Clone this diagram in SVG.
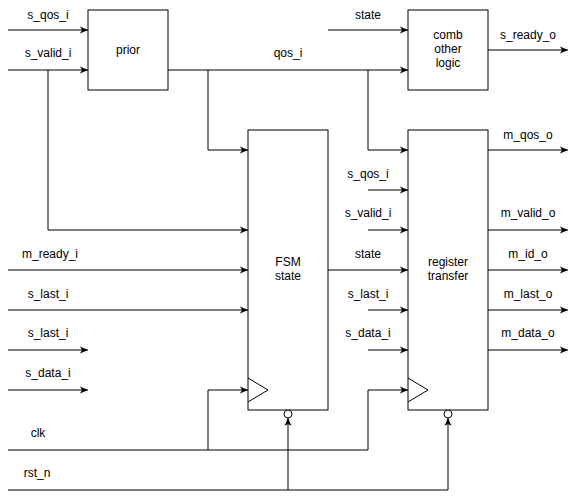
<svg xmlns="http://www.w3.org/2000/svg" width="577" height="499" viewBox="0 0 577 499">
<style>
.box{fill:#fff;stroke:#000;stroke-width:1}
.w{fill:none;stroke:#000;stroke-width:1}
.t{font-family:"Liberation Sans",Arial,sans-serif;font-size:12px;fill:#000;text-anchor:middle}
</style>
<defs>
<marker id="a" markerUnits="userSpaceOnUse" markerWidth="10" markerHeight="10" refX="8" refY="4" orient="auto" viewBox="0 0 10 8">
<path d="M0,0.5 L8,4 L0,7.5 L2,4 Z" fill="#000"/>
</marker>
</defs>
<rect width="577" height="499" fill="#fff"/>
<g id="connectors">
<path class="w" d="M8,30 H88" marker-end="url(#a)"/>
<path class="w" d="M8,70 H88" marker-end="url(#a)"/>
<path class="w" d="M48,70 V230 H248" marker-end="url(#a)"/>
<path class="w" d="M168,70 H408" marker-end="url(#a)"/>
<path class="w" d="M208,70 V150 H248" marker-end="url(#a)"/>
<path class="w" d="M368,70 V150 H408" marker-end="url(#a)"/>
<path class="w" d="M328,30 H408" marker-end="url(#a)"/>
<path class="w" d="M488,50 H568" marker-end="url(#a)"/>
<path class="w" d="M488,150 H568" marker-end="url(#a)"/>
<path class="w" d="M488,230 H568" marker-end="url(#a)"/>
<path class="w" d="M488,270 H568" marker-end="url(#a)"/>
<path class="w" d="M488,310 H568" marker-end="url(#a)"/>
<path class="w" d="M488,350 H568" marker-end="url(#a)"/>
<path class="w" d="M368,190 H408" marker-end="url(#a)"/>
<path class="w" d="M368,230 H408" marker-end="url(#a)"/>
<path class="w" d="M328,270 H408" marker-end="url(#a)"/>
<path class="w" d="M368,310 H408" marker-end="url(#a)"/>
<path class="w" d="M368,350 H408" marker-end="url(#a)"/>
<path class="w" d="M8,270 H248" marker-end="url(#a)"/>
<path class="w" d="M8,310 H248" marker-end="url(#a)"/>
<path class="w" d="M8,350 H88" marker-end="url(#a)"/>
<path class="w" d="M8,390 H88" marker-end="url(#a)"/>
<path class="w" d="M8,450 H368 V390 H408" marker-end="url(#a)"/>
<path class="w" d="M208,450 V390 H248" marker-end="url(#a)"/>
<path class="w" d="M8,490 H448 V418" marker-end="url(#a)"/>
<path class="w" d="M288,490 V418" marker-end="url(#a)"/>
</g>
<g id="prior">
<rect class="box" x="88" y="10" width="80" height="80"/>
<text class="t" x="128" y="54">prior</text>
</g>
<g id="comb">
<rect class="box" x="408" y="10" width="80" height="80"/>
<text class="t" x="448" y="39">comb</text>
<text class="t" x="448" y="53">other</text>
<text class="t" x="448" y="67">logic</text>
</g>
<g id="fsm">
<rect class="box" x="248" y="130" width="80" height="280"/>
<path class="w" d="M248,378 L268,390 L248,402"/>
<circle class="box" cx="288" cy="414" r="4"/>
<text class="t" x="288" y="266">FSM</text>
<text class="t" x="288" y="280">state</text>
</g>
<g id="register">
<rect class="box" x="408" y="130" width="80" height="280"/>
<path class="w" d="M408,378 L428,390 L408,402"/>
<circle class="box" cx="448" cy="414" r="4"/>
<text class="t" x="448" y="266">register</text>
<text class="t" x="448" y="280">transfer</text>
</g>
<g id="labels">
<text class="t" x="48" y="19">s_qos_i</text>
<text class="t" x="48" y="57">s_valid_i</text>
<text class="t" x="288" y="57">qos_i</text>
<text class="t" x="368" y="19">state</text>
<text class="t" x="528" y="39">s_ready_o</text>
<text class="t" x="528" y="139">m_qos_o</text>
<text class="t" x="368" y="178">s_qos_i</text>
<text class="t" x="368" y="217">s_valid_i</text>
<text class="t" x="528" y="217">m_valid_o</text>
<text class="t" x="368" y="258">state</text>
<text class="t" x="528" y="258">m_id_o</text>
<text class="t" x="368" y="298">s_last_i</text>
<text class="t" x="528" y="298">m_last_o</text>
<text class="t" x="368" y="337">s_data_i</text>
<text class="t" x="528" y="337">m_data_o</text>
<text class="t" x="50" y="258">m_ready_i</text>
<text class="t" x="48" y="298">s_last_i</text>
<text class="t" x="48" y="337">s_last_i</text>
<text class="t" x="48" y="377">s_data_i</text>
<text class="t" x="38" y="437">clk</text>
<text class="t" x="37" y="477">rst_n</text>
</g>
</svg>
